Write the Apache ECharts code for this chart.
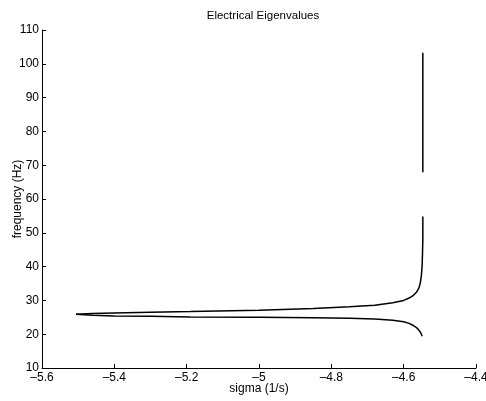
<!DOCTYPE html>
<html><head><meta charset="utf-8">
<script src="https://cdn.jsdelivr.net/npm/echarts@6/dist/echarts.min.js"></script>
<style>html,body{margin:0;padding:0;background:#fff}#c{width:486px;height:401px}</style>
</head><body><div id="c"></div>
<script>
const titleText = "Electrical Eigenvalues";
const xName = "sigma (1/s)";
const yName = "frequency (Hz)";
const xTicks = [-5.6, -5.4, -5.2, -5, -4.8, -4.6, -4.4];
const yTicks = [10, 20, 30, 40, 50, 60, 70, 80, 90, 100, 110];

// branch 1 (upper) from the tip toward the right, rising
const upperSigma = [-5.506, -5.46, -5.4, -5.3, -5.19, -5.0, -4.85, -4.75, -4.68, -4.63, -4.6, -4.585, -4.573, -4.564, -4.558, -4.554, -4.551, -4.549, -4.548, -4.547, -4.547];
const upperFreq  = [25.9, 26.1, 26.3, 26.5, 26.7, 27.1, 27.6, 28.1, 28.6, 29.3, 30.0, 30.7, 31.5, 32.5, 33.6, 35.2, 37.3, 40.2, 43.5, 48.0, 54.8];
// branch 2 (lower) from the tip toward the right, falling
const lowerSigma = [-5.506, -5.46, -5.4, -5.3, -5.19, -5.0, -4.85, -4.75, -4.68, -4.63, -4.60, -4.585, -4.572, -4.562, -4.555, -4.551, -4.549];
const lowerFreq  = [25.9, 25.6, 25.4, 25.3, 25.1, 25.0, 24.9, 24.7, 24.5, 24.1, 23.7, 23.2, 22.5, 21.7, 20.8, 20.0, 19.4];
// high-frequency mode (nearly vertical)
const highSigma = [-4.547, -4.547];
const highFreq  = [67.9, 103.3];

const zip = (a, b) => a.map((v, i) => [v, b[i]]);
const fmt = v => String(v).replace('-', '\u2013');
const font = 'Liberation Sans';
const lineStyle = {color: '#000', width: 1.5};

const chart = echarts.init(document.getElementById('c'), null, {renderer: 'canvas'});
chart.setOption({
  animation: false,
  title: {text: titleText, left: 258, top: 5, textAlign: 'center',
    textStyle: {fontFamily: font, fontSize: 11.5, fontWeight: 'normal', color: '#000'}},
  grid: {left: 42, right: 10, top: 30, bottom: 33, containLabel: false, outerBoundsMode: 'none'},
  xAxis: {type: 'value', min: -5.6, max: -4.4, interval: 0.2,
    name: xName, nameLocation: 'middle', nameGap: 15, nameMoveOverlap: false,
    nameTextStyle: {fontFamily: font, fontSize: 12, color: '#000', verticalAlign: 'top'},
    axisLine: {lineStyle: {color: '#000', width: 1}},
    axisTick: {inside: true, length: 4, lineStyle: {color: '#000'}},
    axisLabel: {fontFamily: font, fontSize: 12, color: '#000', margin: 4,
      formatter: v => { const t = xTicks.find(x => Math.abs(x - v) < 1e-6); return t === undefined ? '' : fmt(t); }},
    splitLine: {show: false}},
  yAxis: {type: 'value', min: 10, max: 110, interval: 10,
    name: yName, nameLocation: 'middle', nameGap: 18, nameMoveOverlap: false,
    nameTextStyle: {fontFamily: font, fontSize: 12, color: '#000'},
    axisLine: {lineStyle: {color: '#000', width: 1}},
    axisTick: {inside: true, length: 4, lineStyle: {color: '#000'}},
    axisLabel: {fontFamily: font, fontSize: 12, color: '#000', margin: 3,
      formatter: v => { const t = yTicks.find(x => Math.abs(x - v) < 1e-6); return t === undefined ? '' : String(t); }},
    splitLine: {show: false}},
  series: [
    {type: 'line', data: zip(upperSigma, upperFreq), showSymbol: false, smooth: false, lineStyle},
    {type: 'line', data: zip(lowerSigma, lowerFreq), showSymbol: false, smooth: false, lineStyle},
    {type: 'line', data: zip(highSigma, highFreq), showSymbol: false, lineStyle}
  ]
});
</script></body></html>
